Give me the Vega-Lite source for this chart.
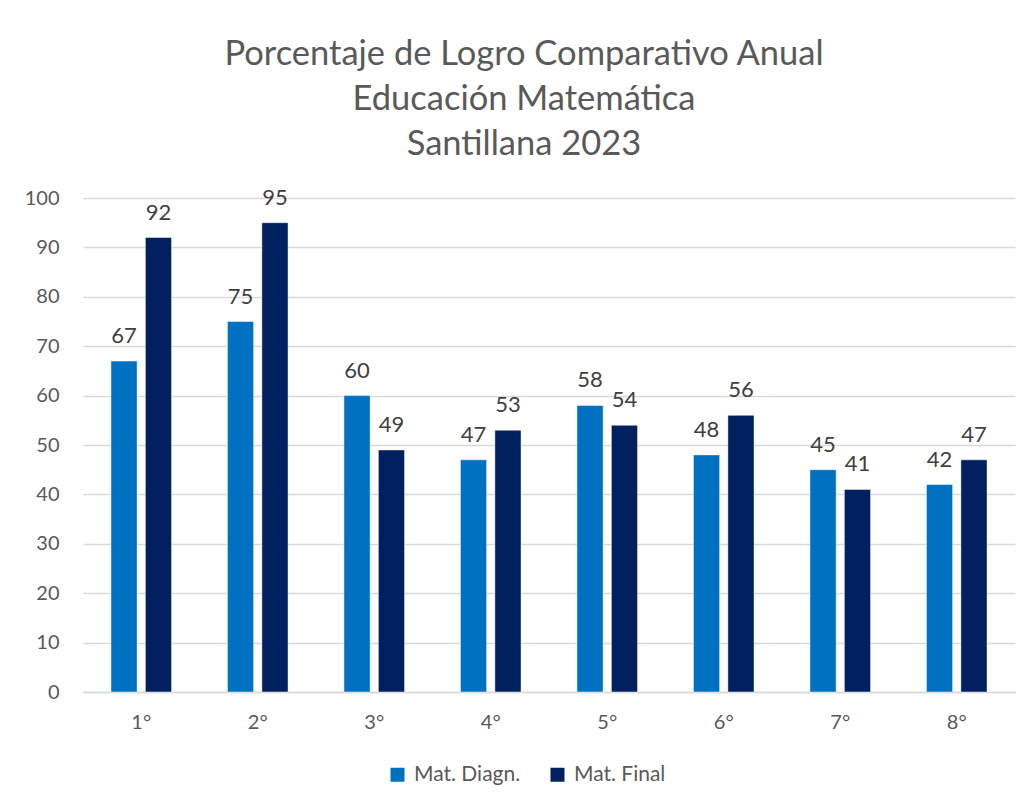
{
  "$schema": "https://vega.github.io/schema/vega-lite/v6.json",
  "width": 932,
  "height": 494,
  "autosize": {"type": "none"},
  "padding": {"left": 83, "top": 198, "right": 14, "bottom": 116},
  "background": "white",
  "title": {
    "text": ["Porcentaje de Logro Comparativo Anual", "Educación Matemática", "Santillana 2023"],
    "anchor": "middle",
    "font": "Lato",
    "fontSize": 34.5,
    "fontWeight": "normal",
    "color": "#595959",
    "lineHeight": 45,
    "offset": 24,
    "dx": -25
  },
  "data": {
    "values": [
      {"curso": "1°", "serie": "Mat. Diagn.", "valor": 67},
      {"curso": "1°", "serie": "Mat. Final", "valor": 92},
      {"curso": "2°", "serie": "Mat. Diagn.", "valor": 75},
      {"curso": "2°", "serie": "Mat. Final", "valor": 95},
      {"curso": "3°", "serie": "Mat. Diagn.", "valor": 60},
      {"curso": "3°", "serie": "Mat. Final", "valor": 49},
      {"curso": "4°", "serie": "Mat. Diagn.", "valor": 47},
      {"curso": "4°", "serie": "Mat. Final", "valor": 53},
      {"curso": "5°", "serie": "Mat. Diagn.", "valor": 58},
      {"curso": "5°", "serie": "Mat. Final", "valor": 54},
      {"curso": "6°", "serie": "Mat. Diagn.", "valor": 48},
      {"curso": "6°", "serie": "Mat. Final", "valor": 56},
      {"curso": "7°", "serie": "Mat. Diagn.", "valor": 45},
      {"curso": "7°", "serie": "Mat. Final", "valor": 41},
      {"curso": "8°", "serie": "Mat. Diagn.", "valor": 42},
      {"curso": "8°", "serie": "Mat. Final", "valor": 47}
    ]
  },
  "encoding": {
    "x": {
      "field": "curso", "type": "nominal", "sort": null,
      "scale": {"paddingInner": 0.48, "paddingOuter": 0.24},
      "axis": {"title": null, "labelAngle": 0}
    },
    "xOffset": {
      "field": "serie", "type": "nominal",
      "scale": {"paddingInner": 0.24, "paddingOuter": 0}
    },
    "y": {
      "field": "valor", "type": "quantitative",
      "scale": {"domain": [0, 100]},
      "axis": {"title": null, "values": [0, 10, 20, 30, 40, 50, 60, 70, 80, 90, 100]}
    }
  },
  "layer": [
    {
      "mark": {"type": "bar", "stroke": "#ffffff", "strokeWidth": 0.8, "strokeOpacity": 0.6},
      "encoding": {
        "color": {
          "field": "serie", "type": "nominal",
          "scale": {"domain": ["Mat. Diagn.", "Mat. Final"], "range": ["#0070C0", "#002060"]},
          "legend": {"title": null, "orient": "none", "direction": "horizontal", "legendX": 304, "legendY": 566}
        }
      }
    },
    {
      "mark": {"type": "text", "baseline": "alphabetic", "dy": -18, "font": "Lato", "fontSize": 22, "color": "#404040"},
      "encoding": {"text": {"field": "valor", "type": "quantitative"}}
    }
  ],
  "config": {
    "view": {"stroke": null},
    "axisX": {
      "labelFont": "Lato", "labelFontSize": 20, "labelColor": "#595959",
      "ticks": false, "labelPadding": 20, "domainColor": "#D9D9D9", "domainWidth": 1.5, "grid": false
    },
    "axisY": {
      "labelFont": "Lato", "labelFontSize": 20, "labelColor": "#595959",
      "ticks": false, "domain": false, "labelPadding": 24,
      "gridColor": "#D9D9D9", "gridWidth": 1.3, "labelOverlap": false
    },
    "legend": {
      "symbolType": "square", "symbolSize": 196, "symbolStrokeWidth": 0, "labelOffset": 6,
      "labelFont": "Lato", "labelFontSize": 21, "labelColor": "#595959",
      "columnPadding": 26
    }
  }
}
